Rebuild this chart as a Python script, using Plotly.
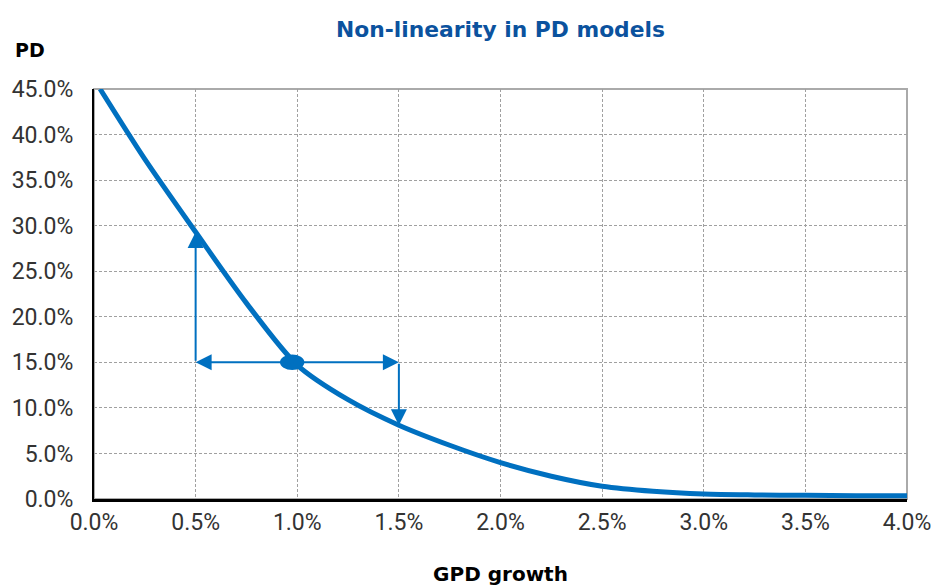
import plotly.graph_objects as go

# Data (percent units)
gdp_growth = [0.03, 0.25, 0.5, 0.75, 1.0, 1.25, 1.5, 1.75, 2.0, 2.25, 2.5, 2.75, 3.0, 3.25, 3.5, 3.75, 4.0]
pd_values = [45.0, 37.3, 29.3, 21.5, 14.7, 10.9, 8.1, 5.9, 4.0, 2.5, 1.4, 0.85, 0.55, 0.45, 0.4, 0.37, 0.35]

center_x, center_y = 0.975, 15.0
left_x, right_x = 0.5, 1.5
left_pd, right_pd = 29.3, 8.1

x_ticks = [0, 0.5, 1, 1.5, 2, 2.5, 3, 3.5, 4]
x_labels = ["0.0%", "0.5%", "1.0%", "1.5%", "2.0%", "2.5%", "3.0%", "3.5%", "4.0%"]
y_ticks = [0, 5, 10, 15, 20, 25, 30, 35, 40, 45]
y_labels = ["0.0%", "5.0%", "10.0%", "15.0%", "20.0%", "25.0%", "30.0%", "35.0%", "40.0%", "45.0%"]

BLUE = "#0070c0"
TICK_FONT = "Roboto, Liberation Sans, Arial, sans-serif"
BOLD_FONT = "DejaVu Sans, Verdana, sans-serif"
TICK_SIZE = 23

fig = go.Figure()
fig.add_trace(go.Scatter(x=gdp_growth, y=pd_values, mode="lines",
                         line=dict(color=BLUE, width=5, shape="spline", smoothing=0.8),
                         hoverinfo="skip", showlegend=False))

# Ellipse marker at centre point
fig.add_shape(type="circle", xref="x", yref="y",
              x0=center_x - 0.06, x1=center_x + 0.06, y0=center_y - 0.85, y1=center_y + 0.85,
              fillcolor=BLUE, line=dict(color=BLUE, width=0), layer="above")

# Arrows
arrow_common = dict(xref="x", yref="y", axref="x", ayref="y", text="", showarrow=True,
                    arrowcolor=BLUE, arrowwidth=2, arrowsize=1.6, arrowhead=2)
fig.add_annotation(x=left_x, y=left_pd, ax=left_x, ay=center_y, **arrow_common)
fig.add_annotation(x=left_x, y=center_y, ax=center_x, ay=center_y, **arrow_common)
fig.add_annotation(x=right_x, y=center_y, ax=center_x, ay=center_y, **arrow_common)
fig.add_annotation(x=right_x, y=right_pd, ax=right_x, ay=center_y, **arrow_common)

# Frame (gray top/right)
fig.add_shape(type="rect", xref="paper", yref="paper", x0=0, x1=1, y0=0, y1=1,
              line=dict(color="#aaaaaa", width=2), layer="below")

fig.update_layout(
    width=934, height=586,
    margin=dict(l=94, r=27, t=89, b=87, autoexpand=False),
    paper_bgcolor="white", plot_bgcolor="white",
    font=dict(family=TICK_FONT, size=TICK_SIZE, color="#333333"),
    title=dict(text="<b>Non-linearity in PD models</b>", xref="paper", x=0.5, xanchor="center",
               yref="container", y=1 - 29 / 586, yanchor="middle",
               font=dict(family=BOLD_FONT, size=21.8, color="#0b529e")),
    xaxis=dict(range=[0, 4], tickvals=x_ticks, ticktext=x_labels, showgrid=True,
               gridcolor="#a0a0a0", griddash="3px,2px", gridwidth=1, zeroline=False,
               showline=True, linecolor="black", linewidth=3, ticks="",
               tickfont=dict(family=TICK_FONT, size=TICK_SIZE, color="#333333"),
               title=dict(text="<b>GPD growth</b>", font=dict(family=BOLD_FONT, size=20, color="black"),
                          standoff=34)),
    yaxis=dict(range=[0, 45], tickvals=y_ticks, ticktext=y_labels, showgrid=True,
               gridcolor="#a0a0a0", griddash="3px,2px", gridwidth=1, zeroline=False,
               showline=True, linecolor="black", linewidth=2, ticks="", ticklabelstandoff=14,
               tickfont=dict(family=TICK_FONT, size=TICK_SIZE, color="#333333")),
    annotations=list(fig.layout.annotations) + [
        dict(text="<b>PD</b>", xref="paper", yref="paper", x=-0.1, y=1.095, xanchor="left",
             yanchor="middle", showarrow=False, font=dict(family=BOLD_FONT, size=19, color="black"))
    ],
)

fig.write_html("out.html", config={"displayModeBar": False},
               post_script="document.body.style.margin='0';")
